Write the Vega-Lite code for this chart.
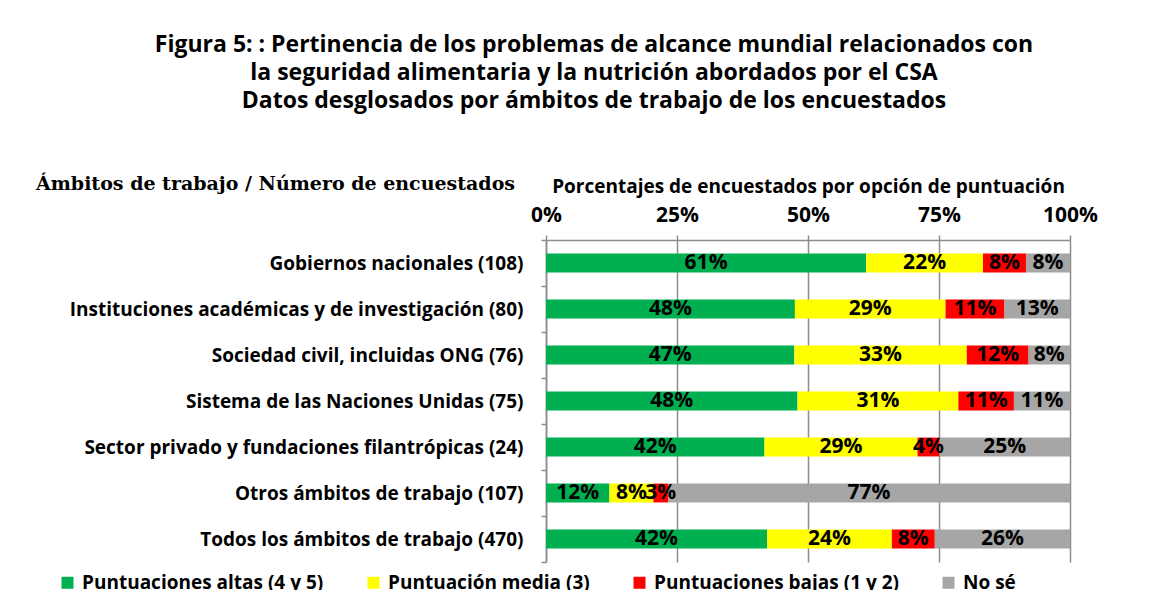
{
  "$schema": "https://vega.github.io/schema/vega-lite/v6.json",
  "width": 524,
  "height": 322,
  "autosize": {"type": "none"},
  "padding": {"left": 546, "top": 240, "right": 94, "bottom": 28},
  "background": "white",
  "title": {
    "text": ["Figura 5: : Pertinencia de los problemas de alcance mundial relacionados con", "la seguridad alimentaria y la nutrición abordados por el CSA", "Datos desglosados por ámbitos de trabajo de los encuestados"],
    "anchor": "middle",
    "frame": "group",
    "dx": -214,
    "offset": 61,
    "font": "Open Sans",
    "fontSize": 23,
    "fontWeight": "bold",
    "lineHeight": 28,
    "color": "#000000"
  },
  "config": {
    "view": {"stroke": null},
    "font": "Open Sans"
  },
  "data": {
    "values": [
      {"cat": "Gobiernos nacionales (108)", "opt": "Puntuaciones altas (4 y 5)", "ord": 1, "value": 61.1, "label": "61%"},
      {"cat": "Gobiernos nacionales (108)", "opt": "Puntuación media (3)", "ord": 2, "value": 22.3, "label": "22%"},
      {"cat": "Gobiernos nacionales (108)", "opt": "Puntuaciones bajas (1 y 2)", "ord": 3, "value": 8.2, "label": "8%"},
      {"cat": "Gobiernos nacionales (108)", "opt": "No sé", "ord": 4, "value": 8.4, "label": "8%"},
      {"cat": "Instituciones académicas y de investigación (80)", "opt": "Puntuaciones altas (4 y 5)", "ord": 1, "value": 47.5, "label": "48%"},
      {"cat": "Instituciones académicas y de investigación (80)", "opt": "Puntuación media (3)", "ord": 2, "value": 28.75, "label": "29%"},
      {"cat": "Instituciones académicas y de investigación (80)", "opt": "Puntuaciones bajas (1 y 2)", "ord": 3, "value": 11.25, "label": "11%"},
      {"cat": "Instituciones académicas y de investigación (80)", "opt": "No sé", "ord": 4, "value": 12.5, "label": "13%"},
      {"cat": "Sociedad civil, incluidas ONG (76)", "opt": "Puntuaciones altas (4 y 5)", "ord": 1, "value": 47.4, "label": "47%"},
      {"cat": "Sociedad civil, incluidas ONG (76)", "opt": "Puntuación media (3)", "ord": 2, "value": 32.9, "label": "33%"},
      {"cat": "Sociedad civil, incluidas ONG (76)", "opt": "Puntuaciones bajas (1 y 2)", "ord": 3, "value": 11.8, "label": "12%"},
      {"cat": "Sociedad civil, incluidas ONG (76)", "opt": "No sé", "ord": 4, "value": 7.9, "label": "8%"},
      {"cat": "Sistema de las Naciones Unidas (75)", "opt": "Puntuaciones altas (4 y 5)", "ord": 1, "value": 48.0, "label": "48%"},
      {"cat": "Sistema de las Naciones Unidas (75)", "opt": "Puntuación media (3)", "ord": 2, "value": 30.7, "label": "31%"},
      {"cat": "Sistema de las Naciones Unidas (75)", "opt": "Puntuaciones bajas (1 y 2)", "ord": 3, "value": 10.6, "label": "11%"},
      {"cat": "Sistema de las Naciones Unidas (75)", "opt": "No sé", "ord": 4, "value": 10.7, "label": "11%"},
      {"cat": "Sector privado y fundaciones filantrópicas (24) ", "opt": "Puntuaciones altas (4 y 5)", "ord": 1, "value": 41.7, "label": "42%"},
      {"cat": "Sector privado y fundaciones filantrópicas (24) ", "opt": "Puntuación media (3)", "ord": 2, "value": 29.2, "label": "29%"},
      {"cat": "Sector privado y fundaciones filantrópicas (24) ", "opt": "Puntuaciones bajas (1 y 2)", "ord": 3, "value": 4.2, "label": "4%"},
      {"cat": "Sector privado y fundaciones filantrópicas (24) ", "opt": "No sé", "ord": 4, "value": 24.9, "label": "25%"},
      {"cat": "Otros ámbitos de trabajo (107)", "opt": "Puntuaciones altas (4 y 5)", "ord": 1, "value": 12.1, "label": "12%"},
      {"cat": "Otros ámbitos de trabajo (107)", "opt": "Puntuación media (3)", "ord": 2, "value": 8.4, "label": "8%"},
      {"cat": "Otros ámbitos de trabajo (107)", "opt": "Puntuaciones bajas (1 y 2)", "ord": 3, "value": 2.8, "label": "3%"},
      {"cat": "Otros ámbitos de trabajo (107)", "opt": "No sé", "ord": 4, "value": 76.7, "label": "77%"},
      {"cat": "Todos los ámbitos de trabajo (470)", "opt": "Puntuaciones altas (4 y 5)", "ord": 1, "value": 42.2, "label": "42%"},
      {"cat": "Todos los ámbitos de trabajo (470)", "opt": "Puntuación media (3)", "ord": 2, "value": 23.8, "label": "24%"},
      {"cat": "Todos los ámbitos de trabajo (470)", "opt": "Puntuaciones bajas (1 y 2)", "ord": 3, "value": 8.2, "label": "8%"},
      {"cat": "Todos los ámbitos de trabajo (470)", "opt": "No sé", "ord": 4, "value": 25.8, "label": "26%"}
    ]
  },
  "transform": [
    {"stack": "value", "groupby": ["cat"], "sort": [{"field": "ord", "order": "ascending"}], "as": ["x0", "x1"]},
    {"calculate": "(datum.x0 + datum.x1) / 2", "as": "xm"}
  ],
  "encoding": {
    "y": {
      "field": "cat",
      "type": "nominal",
      "sort": ["Gobiernos nacionales (108)", "Instituciones académicas y de investigación (80)", "Sociedad civil, incluidas ONG (76)", "Sistema de las Naciones Unidas (75)", "Sector privado y fundaciones filantrópicas (24) ", "Otros ámbitos de trabajo (107)", "Todos los ámbitos de trabajo (470)"],
      "scale": {"paddingInner": 0, "paddingOuter": 0},
      "axis": {
        "orient": "left",
        "title": "Ámbitos de trabajo / Número de encuestados",
        "titleFont": "DejaVu Serif",
        "titleFontSize": 19,
        "titleFontWeight": "bold",
        "titleColor": "#000000",
        "titleAngle": 0,
        "titleAlign": "center",
        "titleBaseline": "middle",
        "titleX": -271,
        "titleY": -57,
        "labelFont": "Open Sans",
        "labelFontSize": 19,
        "labelFontWeight": "bold",
        "labelColor": "#000000",
        "labelLimit": 600,
        "labelPadding": 18,
        "tickBand": "extent",
        "tickSize": 5,
        "tickColor": "#8c8c8c",
        "tickWidth": 1.5,
        "domainColor": "#8c8c8c",
        "domainWidth": 1.5,
        "grid": false
      }
    }
  },
  "layer": [
    {
      "mark": {"type": "bar", "height": {"band": 0.41}},
      "encoding": {
        "x": {
          "field": "x0",
          "type": "quantitative",
          "scale": {"domain": [0, 100], "nice": false},
          "axis": {
            "orient": "top",
            "values": [0, 25, 50, 75, 100],
            "labelExpr": "datum.value + '%'",
            "title": "Porcentajes de encuestados por opción de puntuación",
            "titleFont": "Open Sans",
            "titleFontSize": 19,
            "titleFontWeight": "bold",
            "titleColor": "#000000",
            "titlePadding": 8,
            "labelFont": "Open Sans",
            "labelFontSize": 21,
            "labelFontWeight": "bold",
            "labelColor": "#000000",
            "labelPadding": 10,
            "labelFlush": false,
            "tickSize": 5,
            "tickColor": "#8c8c8c",
            "tickWidth": 1.5,
            "domainColor": "#8c8c8c",
            "domainWidth": 1.5,
            "grid": true,
            "gridColor": "#8c8c8c",
            "gridWidth": 1.5
          }
        },
        "x2": {"field": "x1"},
        "color": {
          "field": "opt",
          "type": "nominal",
          "scale": {
            "domain": ["Puntuaciones altas (4 y 5)", "Puntuación media (3)", "Puntuaciones bajas (1 y 2)", "No sé"],
            "range": ["#00B050", "#FFFF00", "#FF0000", "#A6A6A6"]
          },
          "legend": {
            "title": null,
            "orient": "none",
            "legendX": -488,
            "legendY": 333,
            "direction": "horizontal",
            "columns": 4,
            "columnPadding": 40,
            "gridAlign": "each",
            "symbolType": "square",
            "symbolSize": 144,
            "symbolStrokeWidth": 0,
            "labelFont": "Open Sans",
            "labelFontSize": 19,
            "labelFontWeight": "bold",
            "labelColor": "#000000",
            "labelLimit": 400,
            "labelOffset": 5
          }
        }
      }
    },
    {
      "mark": {"type": "text", "font": "Open Sans", "fontSize": 21, "fontWeight": "bold", "color": "#000000", "baseline": "middle", "align": "center"},
      "encoding": {
        "x": {"field": "xm", "type": "quantitative"},
        "text": {"field": "label"}
      }
    }
  ]
}
